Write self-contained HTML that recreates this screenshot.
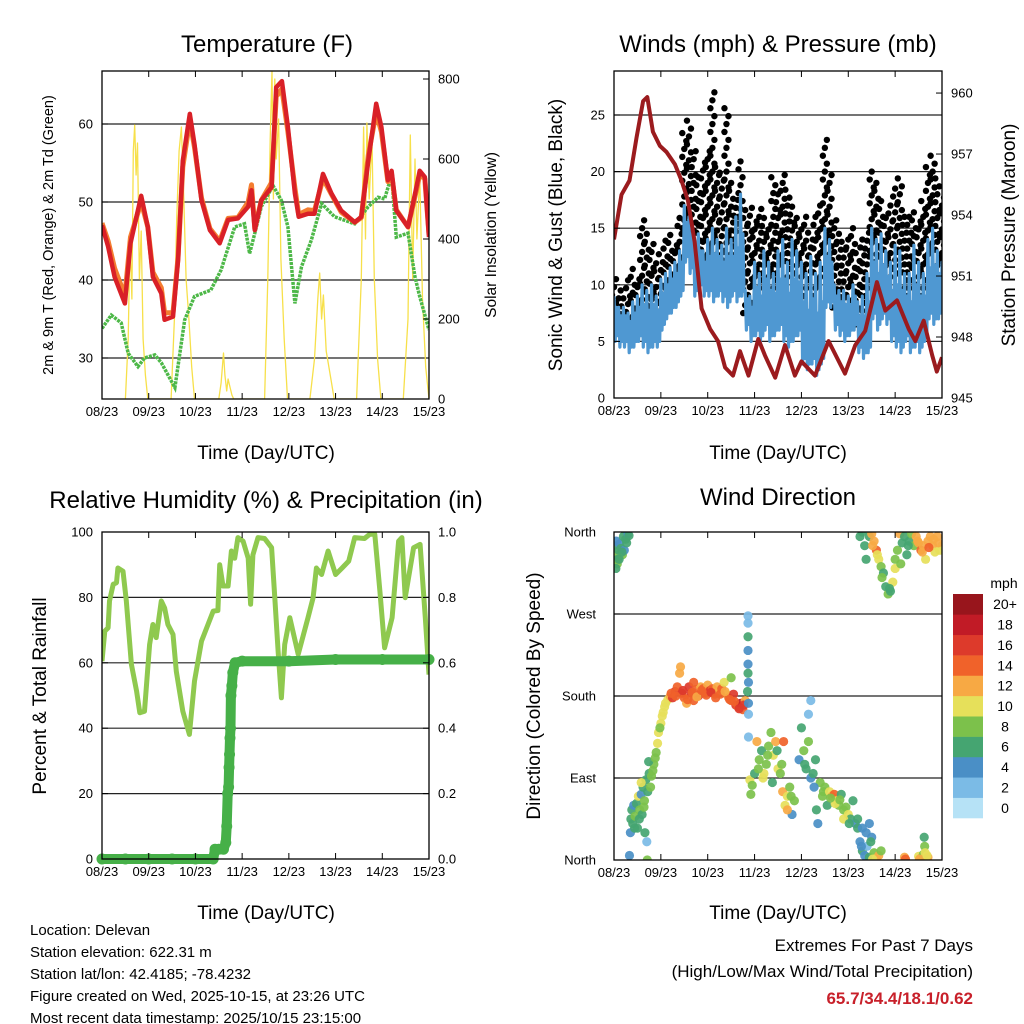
<!DOCTYPE html>
<html><head><meta charset="utf-8">
<style>
html,body{margin:0;padding:0;background:#fff;}
svg{display:block;font-family:"Liberation Sans",sans-serif;}
</style></head>
<body>
<svg id="chart" width="1024" height="1024" viewBox="0 0 1024 1024" xmlns="http://www.w3.org/2000/svg">
<rect width="1024" height="1024" fill="#fff"/>
<g id="layer"></g>
<text x="267" y="52" font-size="24" text-anchor="middle">Temperature (F)</text>
<text x="778" y="52" font-size="24" text-anchor="middle">Winds (mph) &amp; Pressure (mb)</text>
<text x="266" y="508" font-size="24" text-anchor="middle">Relative Humidity (%) &amp; Precipitation (in)</text>
<text x="778" y="505" font-size="24" text-anchor="middle">Wind Direction</text>
<text x="266" y="459" font-size="19" text-anchor="middle">Time (Day/UTC)</text>
<text x="778" y="459" font-size="19" text-anchor="middle">Time (Day/UTC)</text>
<text x="266" y="919" font-size="19" text-anchor="middle">Time (Day/UTC)</text>
<text x="778" y="919" font-size="19" text-anchor="middle">Time (Day/UTC)</text>
<text transform="translate(53,235) rotate(-90)" font-size="14.5" text-anchor="middle">2m &amp; 9m T (Red, Orange) &amp; 2m Td (Green)</text>
<text transform="translate(496,235) rotate(-90)" font-size="15.5" text-anchor="middle">Solar Insolation (Yellow)</text>
<text transform="translate(562,235) rotate(-90)" font-size="19" text-anchor="middle">Sonic Wind &amp; Gust (Blue, Black)</text>
<text transform="translate(1015,235) rotate(-90)" font-size="19" text-anchor="middle">Station Pressure (Maroon)</text>
<text transform="translate(46,696) rotate(-90)" font-size="19" text-anchor="middle">Percent &amp; Total Rainfall</text>
<text transform="translate(540,696) rotate(-90)" font-size="19" text-anchor="middle">Direction (Colored By Speed)</text>
<g font-size="15">
<text x="30" y="935">Location: Delevan</text>
<text x="30" y="957">Station elevation: 622.31 m</text>
<text x="30" y="979">Station lat/lon: 42.4185; -78.4232</text>
<text x="30" y="1001">Figure created on Wed, 2025-10-15, at 23:26 UTC</text>
<text x="30" y="1023">Most recent data timestamp: 2025/10/15 23:15:00</text>
</g>
<g font-size="17" text-anchor="end">
<text x="973" y="951">Extremes For Past 7 Days</text>
<text x="973" y="977">(High/Low/Max Wind/Total Precipitation)</text>
<text x="973" y="1004" fill="#c8202a" font-weight="bold">65.7/34.4/18.1/0.62</text>
</g>
</svg>
<script>
const dayLabels=["08/23","09/23","10/23","11/23","12/23","13/23","14/23","15/23"];
// Temperature (red 2m)
const tempDays=[0,0.13,0.27,0.49,0.61,0.84,0.98,1.09,1.27,1.34,1.52,1.63,1.73,1.88,1.98,2.13,2.31,2.52,2.70,2.91,3.13,3.20,3.27,3.41,3.63,3.73,3.85,3.98,4.13,4.21,4.41,4.55,4.73,4.91,5.12,5.41,5.55,5.70,5.87,5.98,6.12,6.20,6.30,6.55,6.73,6.80,6.91,7.0];
const tempRed=[47,44.3,40.4,37,44.7,50.8,46.8,40.4,38.3,34.9,35.3,42.6,55.3,61.3,57.4,50.2,46.4,44.7,47.7,47.9,49.4,51.5,46.4,50.2,51.9,64.7,65.5,59.6,51.1,48.1,48.5,48.5,53.6,51.1,48.9,47.4,48.1,55.3,62.6,59.6,52.8,54,48.9,46.8,51.9,54,53.2,45.5];
const tempOrange=[47.3,45,41.5,38,45.5,50,46.8,41,39,35.8,35.8,43,54.5,60.5,57,50.5,46.6,45,47.9,48,50,52.2,46.6,50.2,52.5,63.5,64.5,59,51.8,48.4,49,48.9,53,51,48.7,47.4,48,56,61.5,59,52.6,53.5,49,46.8,51.5,53.5,53,45.8];
const dewDays=[0,0.2,0.41,0.56,0.77,0.91,1.13,1.27,1.56,1.77,1.98,2.33,2.55,2.84,3.05,3.16,3.27,3.41,3.66,3.84,3.98,4.13,4.27,4.48,4.70,4.98,5.41,5.70,5.91,6.05,6.20,6.30,6.55,6.70,6.80,7.0];
const dewVals=[33.8,35.5,34.5,30.6,28.9,30,30.4,29.4,26.2,34.9,37.9,38.7,41.3,46.8,47.2,43.4,46,49.4,52.1,50.2,46.8,37,41.7,45.1,49.8,48.1,47.2,49.4,50.6,50.4,53.4,45.5,46,40.4,37.9,33.6];
const solarDays=[0.50,0.56,0.60,0.64,0.67,0.70,0.73,0.76,0.80,0.84,0.88,0.93,0.98,1.48,1.55,1.60,1.65,1.70,1.75,1.80,1.86,1.92,1.98,2.50,2.55,2.60,2.63,2.67,2.70,2.73,2.78,2.82,3.48,3.55,3.60,3.64,3.67,3.70,3.73,3.78,3.83,3.90,3.97,4.45,4.55,4.62,4.66,4.70,4.74,4.80,4.90,4.97,5.45,5.55,5.60,5.64,5.67,5.72,5.78,5.83,5.90,5.97,6.45,6.55,6.60,6.65,6.70,6.74,6.80,6.86,6.93,7.0];
const solarVals=[0,150,400,250,620,685,560,640,300,420,150,60,0,0,200,450,620,680,500,300,200,80,0,0,40,115,60,20,50,35,10,0,0,300,650,820,500,800,600,700,350,150,0,0,100,250,315,200,260,120,50,0,0,300,680,400,690,500,650,300,100,0,0,200,660,300,600,400,560,250,80,0];
// Winds sampled every 0.1 day
const windLo=[5,4.5,4.5,4,4.5,5,4.5,4,4.5,4.5,6,7,7.5,8,9,12,11,9,9.5,9,9,8.5,9,8.5,8,9,8.5,9,6,5,5.5,5,6,5,5.5,6,5,4.5,5,5.5,3,2.5,3,2,3,8,8,6,5.5,5,5.5,6,4,3.5,4,7,6,7,6.5,5,4.5,4,5,4,4.5,4,5,7,6.5,7,7.5];
const windHi=[9,8,8,7.5,8.5,9,10,9.5,10,9,10.5,11,11.5,12,13,17,16,14,14.5,13,14,15,14,13.5,15,14,16,18,9.5,9,12,11,13,12,11,13,14,12,14,13,12,11,12.5,11,12,15,14,10,9.5,9.5,9,10,8.5,9,11,15,14,14.5,13,12,13.5,13,11,11,13.5,12,11,14,15,13,12];
const gustHi=[11,10,9,11,12,11,16,15,14,12,13,14,15,14,16,24,25,22,20,21,22,27,21,20,26,19,18,21,17,17,16,17,16,15,20,18,20,19,17,16,15,16,14,16,17,23,20,16,15,14,14,15,13,14,15,20,19,18,16,17,19,20,16,16,17,16,18,21,22,20,18];
const pressDays=[0,.16,.33,.48,.62,.71,.83,.98,1.12,1.30,1.44,1.58,1.72,1.87,2.05,2.22,2.37,2.54,2.69,2.87,3.08,3.22,3.44,3.65,3.86,4.0,4.29,4.58,4.93,5.15,5.36,5.61,5.79,6.04,6.29,6.43,6.61,6.79,6.89,7.0];
const pressVals=[952.8,955.0,955.7,957.8,959.6,959.8,958.1,957.4,957.1,956.5,955.7,954.7,952.7,949.4,948.4,947.8,946.5,946.1,947.3,946.1,947.9,947.1,946.0,947.6,946.1,946.8,946.1,947.8,946.2,947.6,948.3,950.7,949.3,949.8,948.4,947.8,948.8,947.1,946.3,947];
// Humidity & precip
const rhDays=[0,0.06,0.13,0.16,0.24,0.31,0.34,0.45,0.52,0.63,0.74,0.81,0.91,1.02,1.09,1.16,1.27,1.34,1.41,1.52,1.59,1.73,1.87,1.98,2.13,2.27,2.38,2.48,2.52,2.59,2.70,2.77,2.84,2.91,3.02,3.13,3.18,3.23,3.34,3.48,3.63,3.70,3.77,3.84,3.91,4.02,4.20,4.41,4.52,4.59,4.70,4.84,5.0,5.14,5.28,5.41,5.62,5.73,5.84,5.95,6.05,6.21,6.35,6.42,6.49,6.67,6.81,6.92,7.0];
const rhVals=[60.5,69.7,70.7,78.9,84,84.5,89,88,79,59.5,51.3,44.7,45.2,65.6,71.7,67.7,78.9,76.8,71.7,68.7,57.4,45.2,38.1,54.4,66.6,71.7,75.8,76,90,83.5,83.5,94.2,92,98.3,97.2,92,77.9,93,98.3,98,95.2,79.9,63.6,49.3,65.6,73.8,62.6,73.8,79.9,89,87,94.2,87,89,91.1,98.3,98,99.3,99.3,81.9,64.6,73.8,97.2,98.3,79.9,95.2,96.2,73.8,56.4,49.3,64.6];
const precipDays=[0,0.5,1.0,1.5,2.0,2.38,2.42,2.5,2.6,2.65,2.67,2.69,2.71,2.72,2.73,2.74,2.75,2.76,2.78,2.80,2.85,3.0,4.0,5.0,6.0,7.0];
const precipVals=[0,0,0,0,0,0,0.03,0.03,0.03,0.05,0.1,0.2,0.22,0.28,0.32,0.37,0.4,0.5,0.53,0.57,0.6,0.605,0.605,0.61,0.61,0.61];
// Wind direction scatter
const dirDays=[0.0,0.02,0.05,0.08,0.1,0.12,0.15,0.18,0.2,0.25,0.3,0.32,0.07,0.22,0.04,0.11,0.17,0.27,
0.33,0.35,0.36,0.38,0.4,0.42,0.45,0.48,0.5,0.52,0.55,0.58,0.6,0.62,0.65,0.68,0.7,0.72,0.75,0.8,0.85,0.9,0.95,1.0,1.05,1.1,1.15,0.58,0.74,0.66,0.71,0.44,0.54,0.64,0.78,0.83,0.88,0.93,0.98,1.03,1.08,
1.2,1.25,1.3,1.35,1.4,1.45,1.5,1.55,1.6,1.65,1.7,1.75,1.8,1.85,1.9,1.95,2.0,2.05,2.1,2.15,2.2,2.25,2.3,2.35,2.4,2.45,2.5,2.55,2.6,2.65,2.7,2.75,2.8,2.5,1.42,1.7,1.22,1.32,1.47,1.57,1.67,1.77,1.87,1.97,2.07,2.17,2.27,2.37,2.47,2.57,2.67,2.77,
2.86,2.86,2.86,2.86,2.86,2.86,2.87,2.87,2.87,2.87,2.85,
2.9,2.95,3.0,3.05,3.1,3.15,3.2,3.25,3.3,3.35,3.4,3.45,3.5,3.55,3.6,3.65,3.7,3.75,3.8,3.85,2.92,3.38,3.7,3.62,3.08,3.18,3.28,3.48,3.58,3.78,
3.95,4.0,4.05,4.1,4.15,4.2,4.2,4.25,4.3,4.35,4.32,4.4,4.45,4.5,4.55,4.15,4.07,4.27,4.47,
4.6,4.65,4.7,4.75,4.8,4.85,4.9,4.95,5.0,5.05,5.1,5.15,5.2,4.72,4.9,4.62,4.82,5.02,
5.25,5.3,5.35,5.4,5.45,5.5,5.55,5.6,5.65,5.7,5.3,5.45,5.2,5.52,5.28,5.38,5.48,
6.2,6.22,6.5,6.55,6.6,6.62,6.63,6.64,6.7,6.52,6.68,
5.25,5.3,5.35,5.38,5.45,5.5,5.55,5.6,5.65,5.7,5.75,5.8,5.85,5.9,5.95,6.0,6.05,6.1,6.15,6.2,6.25,6.3,6.35,6.4,6.45,6.5,6.55,6.6,6.65,6.7,6.75,6.8,6.85,6.9,6.95,7.0,6.0,5.52,5.62,5.72,5.88,6.12,6.28,6.48,6.58,6.72,6.82,6.92];
const dirDeg=[345,335,350,330,340,347,342,335,355,352,358,356,325,340,320,330,338,348,
5,30,45,55,40,60,48,62,35,70,55,72,50,80,65,88,20,75,95,92,105,118,140,150,162,172,176,85,108,30,0,35,45,58,80,98,112,128,145,158,168,
180,178,185,190,205,183,178,172,190,183,175,187,180,190,188,183,192,186,188,182,190,186,188,195,182,178,175,182,170,168,172,165,175,200,212,195,183,180,186,176,184,179,186,181,184,178,182,185,176,174,166,170,
268,260,245,230,215,205,195,172,160,135,185,
88,82,95,130,110,120,95,105,125,140,115,130,100,95,75,60,70,80,50,65,72,85,55,130,100,90,115,120,105,70,
110,145,120,100,160,175,90,95,110,40,55,85,70,80,60,130,105,80,75,
75,70,72,65,60,72,55,58,50,45,65,40,35,62,45,68,66,40,
20,10,5,15,3,25,8,2,5,10,35,40,45,1,15,30,20,
3,1,4,2,6,25,15,8,3,1,5,
355,360,345,330,355,358,350,340,330,322,315,300,292,295,305,320,340,358,348,355,335,350,358,345,355,348,340,345,330,350,355,345,338,355,340,345,330,345,335,310,298,325,345,350,338,343,352,348];
const dirSpeed=[6,8,5,7,6,4,6,8,6,6,5,6,8,4,6,6,7,6,
4,4,6,6,6,5,8,6,6,10,8,5,6,6,9,7,2,6,6,8,8,9,10,10,10,11,10,10,7,6,8,6,7,8,9,8,8,10,9,10,10,
13,16,17,14,12,16,15,12,16,17,15,15,16,12,14,15,12,16,14,15,13,12,14,10,11,15,14,16,17,15,18,14,12,8,12,14,14,15,16,14,15,13,15,14,16,15,14,13,14,15,16,17,
3,2,6,4,4,6,4,4,2,2,6,
10,8,6,12,8,6,10,8,8,8,10,12,10,9,12,10,10,8,4,8,8,6,13,14,8,10,8,6,9,8,
4,6,8,6,3,2,4,6,6,4,6,9,8,8,6,9,6,4,8,
10,12,14,10,8,6,9,8,10,6,6,4,6,10,10,9,9,6,
4,6,4,3,6,4,8,10,12,8,4,4,6,10,4,5,6,
12,15,10,12,8,6,8,10,12,12,10,
6,6,6,7,6,12,13,14,10,8,6,6,8,7,10,10,8,12,6,6,7,6,8,8,12,13,14,12,10,12,13,12,10,12,10,10,9,12,11,8,7,9,7,13,12,14,13,12];
const speedLabels=["0","2","4","6","8","10","12","14","16","18","20+"];
const speedColors=["#b6e2f6","#7bbbe6","#4a8fc6","#45a571","#7cc14b","#e6e05a","#f7a944","#f0622a","#dd3a2b","#c11b26","#98151c"];

const NS="http://www.w3.org/2000/svg";
const layer=document.getElementById('layer');
function mk(tag,attrs,parent){const e=document.createElementNS(NS,tag);for(const k in attrs)e.setAttribute(k,attrs[k]);(parent||layer).appendChild(e);return e;}
function grp(name){const g=mk('g',{});return g;}
function path(xs,ys){return xs.map((x,i)=>(i?'L':'M')+x.toFixed(1)+' '+ys[i].toFixed(1)).join(' ');}

const P1={x0:102,x1:429,y0:71,y1:399};
const P2={x0:614,x1:942,y0:71,y1:398};
const P3={x0:102,x1:429,y0:532,y1:859};
const P4={x0:614,x1:942,y0:532,y1:860};
function xf(P){return d=>P.x0+d*(P.x1-P.x0)/7;}

function clip(P,id){const cp=mk('clipPath',{id:id});mk('rect',{x:P.x0,y:P.y0,width:P.x1-P.x0,height:P.y1-P.y0},cp);}
clip(P1,'c1');clip(P2,'c2');clip(P3,'c3');clip(P4,'c4');

function gridY(P,ys,name){const g=grp(name);ys.forEach(y=>{const l=mk('line',{x1:P.x0,x2:P.x1,y1:y,y2:y,stroke:'#222','stroke-width':1.2},g);});}
function frame(P,name){const r=mk('rect',{x:P.x0,y:P.y0,width:P.x1-P.x0,height:P.y1-P.y0,fill:'none',stroke:'#000','stroke-width':1.3});}
function xAxis(P,name){const g=grp(name);const X=xf(P);dayLabels.forEach((lab,i)=>{const x=X(i);mk('line',{x1:x,x2:x,y1:P.y1,y2:P.y1-6,stroke:'#000'},g);mk('line',{x1:x,x2:x,y1:P.y0,y2:P.y0+6,stroke:'#000'},g);const t=mk('text',{x:x,y:P.y1+17,'font-size':13,'text-anchor':'middle'},g);t.textContent=lab;});}
function yAxis(P,vals,labs,yfun,side,name){const g=grp(name);vals.forEach((v,i)=>{const y=yfun(v);const xe=side==='l'?P.x0:P.x1;const dx=side==='l'?6:-6;mk('line',{x1:xe,x2:xe+dx,y1:y,y2:y,stroke:'#000'},g);const t=mk('text',{x:side==='l'?P.x0-9:P.x1+9,y:y+4.5,'font-size':13,'text-anchor':side==='l'?'end':'start'},g);t.textContent=labs[i];});}

// ---------- Panel 1 Temperature ----------
(function(){
const X=xf(P1);const yT=v=>358-(v-30)*7.8;const yS=s=>399-s*0.4;
gridY(P1,[30,40,50,60].map(yT),'temperature-gridlines');
const g=grp('temperature-series');g.setAttribute('clip-path','url(#c1)');
const s=mk('path',{d:path(solarDays.map(X),solarVals.map(yS)),fill:'none',stroke:'#f7e04a','stroke-width':1.3,'stroke-linejoin':'round'},g);

const d=mk('path',{d:path(dewDays.map(X),dewVals.map(yT)),fill:'none',stroke:'#4db848','stroke-width':3.5,'stroke-dasharray':'3 1'},g);

const o=mk('path',{d:path(tempDays.map(X),tempOrange.map(yT)),fill:'none',stroke:'#f47d30','stroke-width':5,'stroke-linejoin':'round'},g);

const r=mk('path',{d:path(tempDays.map(X),tempRed.map(yT)),fill:'none',stroke:'#d92027','stroke-width':4.5,'stroke-linejoin':'round'},g);

frame(P1,'temperature-plot-frame');xAxis(P1,'temperature-x-axis');
yAxis(P1,[30,40,50,60],['30','40','50','60'],yT,'l','temperature-y-axis');
yAxis(P1,[0,200,400,600,800],['0','200','400','600','800'],yS,'r','solar-y-axis');
})();

// ---------- Panel 2 Winds ----------
(function(){
const X=xf(P2);const yW=m=>398-m*11.32;const yP=p=>398-(p-945)*20.33;
gridY(P2,[5,10,15,20,25].map(yW),'wind-gridlines');
const gd=grp('gust-points');gd.setAttribute('clip-path','url(#c2)');
gustHi.forEach((gh,i)=>{const x=X(i/10);let k=0;for(let v=windHi[i]-2;v<=gh;v+=0.7){const c=mk('circle',{cx:x+((k%3)-1)*2,cy:yW(v),r:3.2,fill:'#000'},gd);k++;}});
const g=grp('wind-series');g.setAttribute('clip-path','url(#c2)');
const zx=[],zy=[];
windHi.forEach((h,i)=>{zx.push(X(i/10));zy.push(yW(h));zx.push(X(i/10+0.025));zy.push(yW(windLo[i]));zx.push(X(i/10+0.05));zy.push(yW((h+windLo[i])/2+1));zx.push(X(i/10+0.075));zy.push(yW(windLo[i]+0.5));});
const band=mk('path',{d:path(zx,zy),fill:'none',stroke:'#4f98d2','stroke-width':3.2,'stroke-linejoin':'round'},g);

const gp=grp('pressure-series');gp.setAttribute('clip-path','url(#c2)');
const p=mk('path',{d:path(pressDays.map(X),pressVals.map(yP)),fill:'none',stroke:'#9b1b1e','stroke-width':4,'stroke-linejoin':'round'},gp);

frame(P2,'winds-plot-frame');xAxis(P2,'winds-x-axis');
yAxis(P2,[0,5,10,15,20,25],['0','5','10','15','20','25'],yW,'l','wind-y-axis');
yAxis(P2,[945,948,951,954,957,960],['945','948','951','954','957','960'],yP,'r','pressure-y-axis');
})();

// ---------- Panel 3 RH & precip ----------
(function(){
const X=xf(P3);const yR=r=>859-r*3.27;const yPr=p=>859-p*327;
gridY(P3,[20,40,60,80].map(yR),'humidity-gridlines');
const g=grp('humidity-series');g.setAttribute('clip-path','url(#c3)');
const r=mk('path',{d:path(rhDays.map(X),rhVals.map(yR)),fill:'none',stroke:'#8fc94f','stroke-width':5,'stroke-linejoin':'round'},g);

const gp=grp('precip-series');
const pl=mk('path',{d:path(precipDays.map(X),precipVals.map(yPr)),fill:'none',stroke:'#46b048','stroke-width':10,'stroke-linecap':'round','stroke-linejoin':'round'},gp);

precipDays.forEach((d,i)=>{const c=mk('circle',{cx:X(d),cy:yPr(precipVals[i]),r:5.5,fill:'#46b048'},gp);});
frame(P3,'humidity-plot-frame');xAxis(P3,'humidity-x-axis');
yAxis(P3,[0,20,40,60,80,100],['0','20','40','60','80','100'],yR,'l','humidity-y-axis');
yAxis(P3,[0,0.2,0.4,0.6,0.8,1.0],['0.0','0.2','0.4','0.6','0.8','1.0'],yPr,'r','precip-y-axis');
})();

// ---------- Panel 4 Wind direction ----------
(function(){
const X=xf(P4);const yD=d=>860-d*328/360;
gridY(P4,[90,180,270].map(yD),'direction-gridlines');
const g=grp('direction-points');g.setAttribute('clip-path','url(#c4)');
dirDays.forEach((d,i)=>{const sp=dirSpeed[i];const bin=sp>=20?10:Math.floor(sp/2);const c=mk('circle',{cx:X(d),cy:yD(dirDeg[i]),r:4.6,fill:speedColors[bin],'fill-opacity':0.92},g);});
frame(P4,'direction-plot-frame');xAxis(P4,'direction-x-axis');
const ga=grp('direction-y-axis');
['North','East','South','West','North'].forEach((lab,i)=>{const y=yD(i*90);mk('line',{x1:P4.x0,x2:P4.x0+6,y1:y,y2:y,stroke:'#000'},ga);const t=mk('text',{x:P4.x0-18,y:y+4.5,'font-size':13,'text-anchor':'end'},ga);t.textContent=lab;});
// colorbar
const cb=grp('speed-colorbar');
const t0=mk('text',{x:1004,y:588,'font-size':14,'text-anchor':'middle'},cb);t0.textContent='mph';
const h=224/11;
speedColors.forEach((col,i)=>{const y=818-(i+1)*h;const r=mk('rect',{x:953,y:y,width:30,height:h+0.3,fill:col},cb);const t=mk('text',{x:1005,y:y+h/2+5,'font-size':14,'text-anchor':'middle'},cb);t.textContent=speedLabels[i];});
})();
</script>
</body></html>
